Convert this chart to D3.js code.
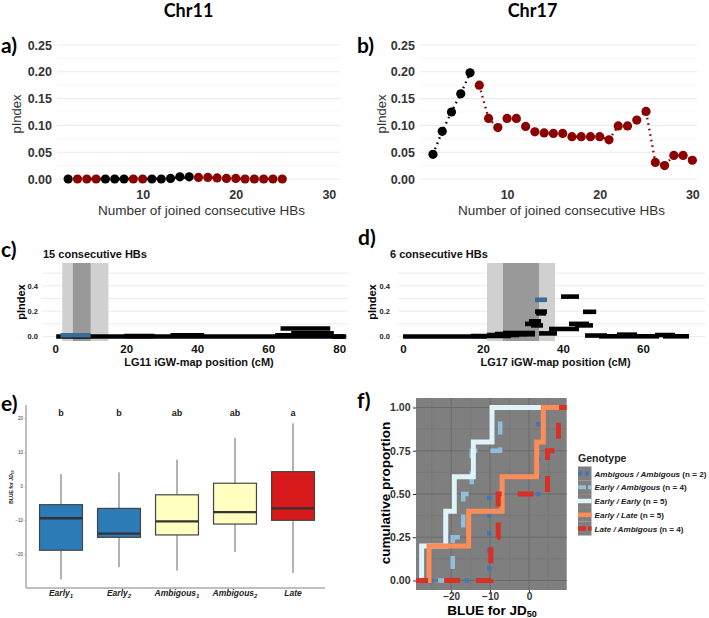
<!DOCTYPE html>
<html>
<head>
<meta charset="utf-8">
<script src="https://cdn.jsdelivr.net/npm/d3@7"></script>
<style>
  body { margin: 0; background: #fff; }
  svg { display: block; }
  text { font-family: "Liberation Sans", Arial, sans-serif; }
</style>
</head>
<body>
<div id="chart"></div>
<script>
// ---- a) Chr11 : pIndex by number of joined HBs
const hbA = [2, 3, 4, 5, 6, 7, 8, 9, 10, 11, 12, 13, 14, 15, 16, 17, 18, 19, 20, 21, 22, 23, 24, 25];
const pIndexA = [0, 0, 0, 0, 0, 0, 0, 0, 0, 0, 0, 0.001, 0.004, 0.004, 0.003, 0.003, 0.002, 0.001, 0.001, 0, 0, 0, 0, 0];
const groupA = ['k', 'r', 'r', 'r', 'k', 'k', 'k', 'r', 'r', 'k', 'k', 'k', 'k', 'k',
  'r', 'r', 'r', 'r', 'r', 'r', 'r', 'r', 'r', 'r'];

// ---- b) Chr17
const hbB = [2, 3, 4, 5, 6, 7, 8, 9, 10, 11, 12, 13, 14, 15, 16, 17, 18, 19, 20, 21, 22, 23, 24, 25, 26, 27, 28, 29, 30];
const pIndexB = [0.046, 0.089, 0.125, 0.159, 0.198, 0.175, 0.113, 0.096, 0.113, 0.113, 0.098, 0.088, 0.086, 0.085,
  0.085, 0.079, 0.079, 0.079, 0.079, 0.073, 0.099, 0.099, 0.110, 0.126, 0.031, 0.025, 0.044, 0.044, 0.035];
const groupB = ['k', 'k', 'k', 'k', 'k', 'r', 'r', 'r', 'r', 'r', 'r', 'r', 'r', 'r', 'r', 'r', 'r', 'r', 'r', 'r',
  'r', 'r', 'r', 'r', 'r', 'r', 'r', 'r', 'r'];
const pTicks = [0, 0.05, 0.10, 0.15, 0.20, 0.25];

// ---- c) LG11 windows of 15 HBs: [start cM, end cM, pIndex]
const windowsC = [[0.3, 81.5, 0.0], [19.5, 28, 0.004], [32.5, 42, 0.01], [62, 78, 0.01],
  [66.5, 78.5, 0.025], [63.5, 77.5, 0.064], [78, 82, 0.0]];
const topWindowC = [[1.5, 10, 0.01]];
const ciOuterC = [2, 15];
const ciInnerC = [5, 10];

// ---- d) LG17 windows of 6 HBs
const windowsD = [[0, 21, 0.0], [17, 27, 0.005], [21, 29, 0.012], [23, 31, 0.02], [25, 33, 0.028],
  [27, 33, 0.018], [33, 36, 0.197], [33.3, 35.8, 0.183], [31.5, 34.5, 0.12], [30.5, 34, 0.1],
  [32, 35, 0.088], [34, 38.5, 0.025], [36.5, 44, 0.06], [39.5, 44, 0.315], [41.5, 46.5, 0.1],
  [43, 47.5, 0.088], [45, 48.3, 0.195], [45.5, 51, 0.008], [49, 56, 0.002], [53.5, 58.5, 0.015],
  [56, 64, 0.002], [63, 68, 0.012], [65, 71.5, 0.002]];
const topWindowD = [[33, 36, 0.29]];
const ciOuterD = [21, 38];
const ciInnerD = [25, 34];
const cmTicksC = [0, 20, 40, 60, 80];
const cmTicksD = [0, 20, 40, 60];

// ---- e) boxplots of BLUE for JD50
const boxNames = ['Early', 'Early', 'Ambigous', 'Ambigous', 'Late'];
const boxSubs = ['1', '2', '1', '2', ''];
const boxLow = [-27.4, -23.8, -24.8, -19.3, -25.5];
const boxQ1 = [-18.8, -15.0, -14.3, -11.1, -10.0];
const boxMed = [-9.4, -13.9, -10.3, -7.6, -6.5];
const boxQ3 = [-5.4, -6.5, -2.5, 0.9, 4.3];
const boxHigh = [3.6, 4.1, 7.8, 14.3, 18.5];
const boxLetters = ['b', 'b', 'ab', 'ab', 'a'];
const boxColors = ['#2c7bb6', '#2c7bb6', '#ffffbf', '#ffffbf', '#d7191c'];
const blueTicks = [-20, -10, 0, 10, 20];

// ---- f) ECDF per genotype
const genotypes = ['Ambigous / Ambigous', 'Early / Ambigous', 'Early / Early', 'Early / Late', 'Late / Ambigous'];
const genoN = [2, 4, 5, 5, 4];
const ambAmb = [-10.2, 2.4];
const earlyAmb = [-19.6, -16.9, -14.7, -7.4];
const earlyEarly = [-27.6, -21.4, -19.2, -14.3, -9.5];
const earlyLate = [-25.7, -15.5, -6.9, 2.0, 3.7];
const lateAmb = [-9.8, -7.9, 4.8, 7.6];
const genoValues = [ambAmb, earlyAmb, earlyEarly, earlyLate, lateAmb];
const genoColors = ['#4575b4', '#91bfdb', '#e0f3f8', '#fc8d59', '#d73027'];
const genoDash = ['4.5,13', '13,13', null, null, '16,16'];
const genoWidth = [4.5, 4.5, 5, 5, 5];
const cumTicks = [0, 0.25, 0.5, 0.75, 1];
const blueTicksF = [-20, -10, 0];

const svg = d3.select('#chart').append('svg')
  .attr('width', 709).attr('height', 618);
svg.append('rect').attr('width', 709).attr('height', 618).attr('fill', '#fff');

const TITLE_FONT = 'Lato, "Open Sans", sans-serif';

function label(x, y, txt, size, opts = {}) {
  const t = svg.append('text')
    .attr('x', x).attr('y', y)
    .attr('text-anchor', opts.anchor || 'start')
    .attr('font-size', size)
    .attr('font-weight', opts.weight || 'normal')
    .attr('fill', opts.fill || '#000')
    .text(txt);
  if (opts.family) t.style('font-family', opts.family);
  if (opts.rotate) t.attr('transform', `rotate(-90,${x},${y})`);
  return t;
}

function styleAxis(ax, size, weight, fill) {
  ax.selectAll('text')
    .attr('font-size', size)
    .attr('font-weight', weight)
    .attr('fill', fill)
    .style('font-family', '"Liberation Sans", Arial, sans-serif');
}

// titles and panel letters
label(188.5, 17, 'Chr11', 18, {anchor: 'middle', weight: 'bold', family: TITLE_FONT});
label(532.5, 17, 'Chr17', 18, {anchor: 'middle', weight: 'bold', family: TITLE_FONT});
label(1, 53, 'a)', 21, {weight: 'bold', family: TITLE_FONT});
label(357, 53, 'b)', 21, {weight: 'bold', family: TITLE_FONT});
label(1, 257, 'c)', 21, {weight: 'bold', family: TITLE_FONT});
label(358, 245, 'd)', 21, {weight: 'bold', family: TITLE_FONT});
label(1, 411, 'e)', 21, {weight: 'bold', family: TITLE_FONT});
label(357, 408, 'f)', 21, {weight: 'bold', family: TITLE_FONT});

// ---------- panels a & b ----------
function dotPanel(xs, ps, grps, xDom, xRange, yTitleX) {
  const x = d3.scaleLinear().domain(xDom).range(xRange);
  const y = d3.scaleLinear().domain([0, 0.25]).range([179, 45]);
  const g = svg.append('g');

  const minor = pTicks.slice(1).map(v => v - 0.025);
  g.selectAll('.minor').data(minor).join('line')
    .attr('x1', xRange[0]).attr('x2', xRange[1])
    .attr('y1', d => y(d)).attr('y2', d => y(d))
    .attr('stroke', '#f2f2f2').attr('stroke-width', 0.7);
  g.selectAll('.major').data(pTicks).join('line')
    .attr('x1', xRange[0]).attr('x2', xRange[1])
    .attr('y1', d => y(d)).attr('y2', d => y(d))
    .attr('stroke', '#ebebeb').attr('stroke-width', 1.1);

  const yAx = g.append('g').attr('transform', `translate(${xRange[0]},0)`)
    .call(d3.axisLeft(y).tickValues(pTicks).tickFormat(d3.format('.2f')).tickSize(0).tickPadding(5));
  yAx.select('.domain').remove();
  styleAxis(yAx, 12.5, 'bold', '#333');

  const xAx = g.append('g').attr('transform', 'translate(0,186)')
    .call(d3.axisBottom(x).tickValues([10, 20, 30]).tickSize(0).tickPadding(4));
  xAx.select('.domain').remove();
  styleAxis(xAx, 12.5, 'bold', '#333');

  const data = xs.map((v, i) => ({x: v, p: ps[i], g: grps[i]}));
  const colors = {k: '#000', r: '#8b0000'};
  const line = d3.line().x(d => x(d.x)).y(d => y(d.p));
  ['k', 'r'].forEach(key => {
    g.append('path').datum(data.filter(d => d.g === key))
      .attr('d', line)
      .attr('fill', 'none')
      .attr('stroke', colors[key])
      .attr('stroke-width', 2.3)
      .attr('stroke-dasharray', '1.6,4');
  });
  g.selectAll('circle').data(data).join('circle')
    .attr('cx', d => x(d.x)).attr('cy', d => y(d.p)).attr('r', 4.6)
    .attr('fill', d => colors[d.g]);

  label(yTitleX, 114, 'pIndex', 13, {anchor: 'middle', rotate: true, fill: '#333'});
  label((xRange[0] + xRange[1]) / 2 + 3, 215, 'Number of joined consecutive HBs', 13.5, {anchor: 'middle', fill: '#333'});
}

dotPanel(hbA, pIndexA, groupA, [0.8, 31.2], [57, 340], 21);
dotPanel(hbB, pIndexB, groupB, [0.6, 30.5], [420, 697], 386);

// ---------- panels c & d ----------
function windowPanel(wins, topWins, outer, inner, cmTicks, xDom, xRange, yPad, subtitle, subX, xTitle, yTitleX) {
  const x = d3.scaleLinear().domain(xDom).range(xRange);
  const y = d3.scaleLinear().domain([-0.035, 0.58]).range([341, 263]);
  const g = svg.append('g');

  g.selectAll('.grid').data([0, 0.1, 0.2, 0.3, 0.4, 0.5]).join('line')
    .attr('x1', xRange[0]).attr('x2', xRange[1])
    .attr('y1', d => y(d)).attr('y2', d => y(d))
    .attr('stroke', '#ebebeb').attr('stroke-width', 1);

  g.append('rect').attr('x', x(outer[0])).attr('width', x(outer[1]) - x(outer[0]))
    .attr('y', 263).attr('height', 78).attr('fill', '#d0d0d0');
  g.append('rect').attr('x', x(inner[0])).attr('width', x(inner[1]) - x(inner[0]))
    .attr('y', 263).attr('height', 78).attr('fill', '#999');

  const yAx = g.append('g').attr('transform', `translate(${xRange[0]},0)`)
    .call(d3.axisLeft(y).tickValues([0, 0.2, 0.4]).tickFormat(d3.format('.1f')).tickSize(0).tickPadding(yPad));
  yAx.select('.domain').remove();
  styleAxis(yAx, 7.5, 'bold', '#222');

  const xAx = g.append('g').attr('transform', 'translate(0,341)')
    .call(d3.axisBottom(x).tickValues(cmTicks).tickSize(0).tickPadding(4));
  xAx.select('.domain').remove();
  styleAxis(xAx, 11.5, 'bold', '#111');

  const seg = (sel, color) => sel
    .attr('x1', d => x(d[0])).attr('x2', d => x(d[1]))
    .attr('y1', d => y(d[2])).attr('y2', d => y(d[2]))
    .attr('stroke', color).attr('stroke-width', 4.6);
  seg(g.selectAll('.win').data(wins).join('line'), '#000');
  seg(g.selectAll('.top').data(topWins).join('line').attr('class', 'top'), '#3b6b96');

  label(subX, 258, subtitle, 11, {weight: 'bold', fill: '#111'});
  label(yTitleX, 302, 'pIndex', 11, {anchor: 'middle', weight: 'bold', rotate: true});
  label((xRange[0] + xRange[1]) / 2 + 4, 366, xTitle, 11, {anchor: 'middle', weight: 'bold', fill: '#111'});
}

windowPanel(windowsC, topWindowC, ciOuterC, ciInnerC, cmTicksC, [-3.7, 82.5], [42, 348], 4,
  '15 consecutive HBs', 43, 'LG11 iGW-map position (cM)', 25);
windowPanel(windowsD, topWindowD, ciOuterD, ciInnerD, cmTicksD, [-1.25, 75.5], [398, 705], 8,
  '6 consecutive HBs', 390, 'LG17 iGW-map position (cM)', 376);

// ---------- panel e ----------
(function () {
  const idx = d3.range(boxNames.length);
  const x = d3.scaleBand().domain(idx).range([32, 322]).paddingInner(0.26).paddingOuter(0.13);
  const y = d3.scaleLinear().domain([-29.9, 23.9]).range([588, 405]);
  const g = svg.append('g');

  g.append('line').attr('x1', 26).attr('x2', 26).attr('y1', 405).attr('y2', 588)
    .attr('stroke', '#aaa').attr('stroke-width', 1.5);
  g.append('line').attr('x1', 26).attr('x2', 325).attr('y1', 588).attr('y2', 588)
    .attr('stroke', '#aaa').attr('stroke-width', 1.5);

  const yAx = g.append('g').attr('transform', 'translate(26,0)')
    .call(d3.axisLeft(y).tickValues(blueTicks).tickSize(1.5).tickPadding(1.5));
  yAx.select('.domain').remove();
  yAx.selectAll('line').attr('stroke', '#aaa');
  styleAxis(yAx, 4.5, 'normal', '#333');

  const bw = x.bandwidth();
  idx.forEach(i => {
    const cx = x(i) + bw / 2;
    g.append('line').attr('x1', cx).attr('x2', cx).attr('y1', y(boxHigh[i])).attr('y2', y(boxQ3[i]))
      .attr('stroke', '#666').attr('stroke-width', 1);
    g.append('line').attr('x1', cx).attr('x2', cx).attr('y1', y(boxQ1[i])).attr('y2', y(boxLow[i]))
      .attr('stroke', '#666').attr('stroke-width', 1);
    g.append('rect').attr('x', x(i)).attr('width', bw)
      .attr('y', y(boxQ3[i])).attr('height', y(boxQ1[i]) - y(boxQ3[i]))
      .attr('fill', boxColors[i]).attr('stroke', '#444').attr('stroke-width', 1.2);
    g.append('line').attr('x1', x(i)).attr('x2', x(i) + bw).attr('y1', y(boxMed[i])).attr('y2', y(boxMed[i]))
      .attr('stroke', '#333').attr('stroke-width', 2.4);
    label(cx, 416, boxLetters[i], 9, {anchor: 'middle', weight: 'bold', fill: '#222'});
    const t = label(cx, 596, '', 8.5, {anchor: 'middle', weight: 'bold', fill: '#222'})
      .attr('font-style', 'italic');
    t.append('tspan').text(boxNames[i]);
    if (boxSubs[i]) t.append('tspan').attr('dy', 2).attr('font-size', 6).text(boxSubs[i]);
  });

  const yt = label(13, 487, '', 5, {anchor: 'middle', weight: 'bold', rotate: true, fill: '#222'});
  yt.append('tspan').text('BLUE for ');
  yt.append('tspan').attr('font-style', 'italic').text('JD');
  yt.append('tspan').attr('dy', 1).attr('font-size', 3.5).text('50');
})();

// ---------- panel f ----------
(function () {
  const xDom = [-29.05, 9.72];
  const x = d3.scaleLinear().domain(xDom).range([416, 566.7]);
  const y = d3.scaleLinear().domain([-0.055, 1.055]).range([590, 398]);
  const g = svg.append('g');

  g.append('rect').attr('x', 416).attr('y', 398).attr('width', 150.7).attr('height', 192).attr('fill', '#7f7f7f');
  const minorX = [-25, -15, -5, 5];
  const minorY = [0.125, 0.375, 0.625, 0.875];
  g.selectAll('.mx').data(minorX).join('line')
    .attr('x1', d => x(d)).attr('x2', d => x(d)).attr('y1', 398).attr('y2', 590)
    .attr('stroke', '#747474').attr('stroke-width', 0.6);
  g.selectAll('.my').data(minorY).join('line')
    .attr('y1', d => y(d)).attr('y2', d => y(d)).attr('x1', 416).attr('x2', 566.7)
    .attr('stroke', '#747474').attr('stroke-width', 0.6);
  g.selectAll('.gx').data(blueTicksF).join('line')
    .attr('x1', d => x(d)).attr('x2', d => x(d)).attr('y1', 398).attr('y2', 590)
    .attr('stroke', '#6b6b6b').attr('stroke-width', 1);
  g.selectAll('.gy').data(cumTicks).join('line')
    .attr('y1', d => y(d)).attr('y2', d => y(d)).attr('x1', 416).attr('x2', 566.7)
    .attr('stroke', '#6b6b6b').attr('stroke-width', 1);

  svg.append('clipPath').attr('id', 'clipF').append('rect')
    .attr('x', 416).attr('y', 398).attr('width', 150.7).attr('height', 192);
  const lines = g.append('g').attr('clip-path', 'url(#clipF)');
  const line = d3.line().x(d => x(d[0])).y(d => y(d[1]));
  genoValues.forEach((vals, k) => {
    const s = vals.slice().sort((a, b) => a - b);
    const n = s.length;
    const pts = [[xDom[0] - 1, 0]];
    s.forEach((v, i) => { pts.push([v, i / n]); pts.push([v, (i + 1) / n]); });
    pts.push([xDom[1] + 1, 1]);
    const p = lines.append('path').datum(pts).attr('d', line)
      .attr('fill', 'none').attr('stroke', genoColors[k]).attr('stroke-width', genoWidth[k])
      .attr('stroke-linejoin', 'miter').attr('stroke-linecap', 'butt');
    if (genoDash[k]) p.attr('stroke-dasharray', genoDash[k]);
  });

  const yAx = g.append('g').attr('transform', 'translate(416,0)')
    .call(d3.axisLeft(y).tickValues(cumTicks).tickFormat(d3.format('.2f')).tickSize(3).tickPadding(2.5));
  yAx.select('.domain').remove();
  yAx.selectAll('line').attr('stroke', '#333');
  styleAxis(yAx, 10.5, 'bold', '#333');
  const xAx = g.append('g').attr('transform', 'translate(0,590)')
    .call(d3.axisBottom(x).tickValues(blueTicksF).tickSize(2.5).tickPadding(0));
  xAx.select('.domain').remove();
  xAx.selectAll('line').attr('stroke', '#333');
  styleAxis(xAx, 10, 'bold', '#333');

  label(390, 493, 'cumulative proportion', 13.5, {anchor: 'middle', weight: 'bold', rotate: true});
  const xt = label(492, 614.5, '', 13.5, {anchor: 'middle', weight: 'bold'});
  xt.append('tspan').text('BLUE for JD');
  xt.append('tspan').attr('dy', 2.8).attr('font-size', 9).text('50');

  // legend
  label(578, 462, 'Genotype', 10.5, {weight: 'bold', fill: '#222'});
  genotypes.forEach((name, k) => {
    const ry = 466.5 + k * 13.8;
    svg.append('rect').attr('x', 578).attr('y', ry).attr('width', 13.5).attr('height', 13.8).attr('fill', '#7f7f7f');
    const kl = svg.append('line').attr('x1', 578).attr('x2', 591.5).attr('y1', ry + 6.9).attr('y2', ry + 6.9)
      .attr('stroke', genoColors[k]).attr('stroke-width', genoWidth[k] * 0.9);
    if (genoDash[k]) kl.attr('stroke-dasharray', k === 0 ? '4,3' : '8,2');
    const t = label(594.5, ry + 10, '', 8.1, {weight: 'bold', fill: '#222'});
    t.append('tspan').attr('font-style', 'italic').text(name);
    t.append('tspan').text(` (n = ${genoN[k]})`);
  });
})();
</script>
</body>
</html>
